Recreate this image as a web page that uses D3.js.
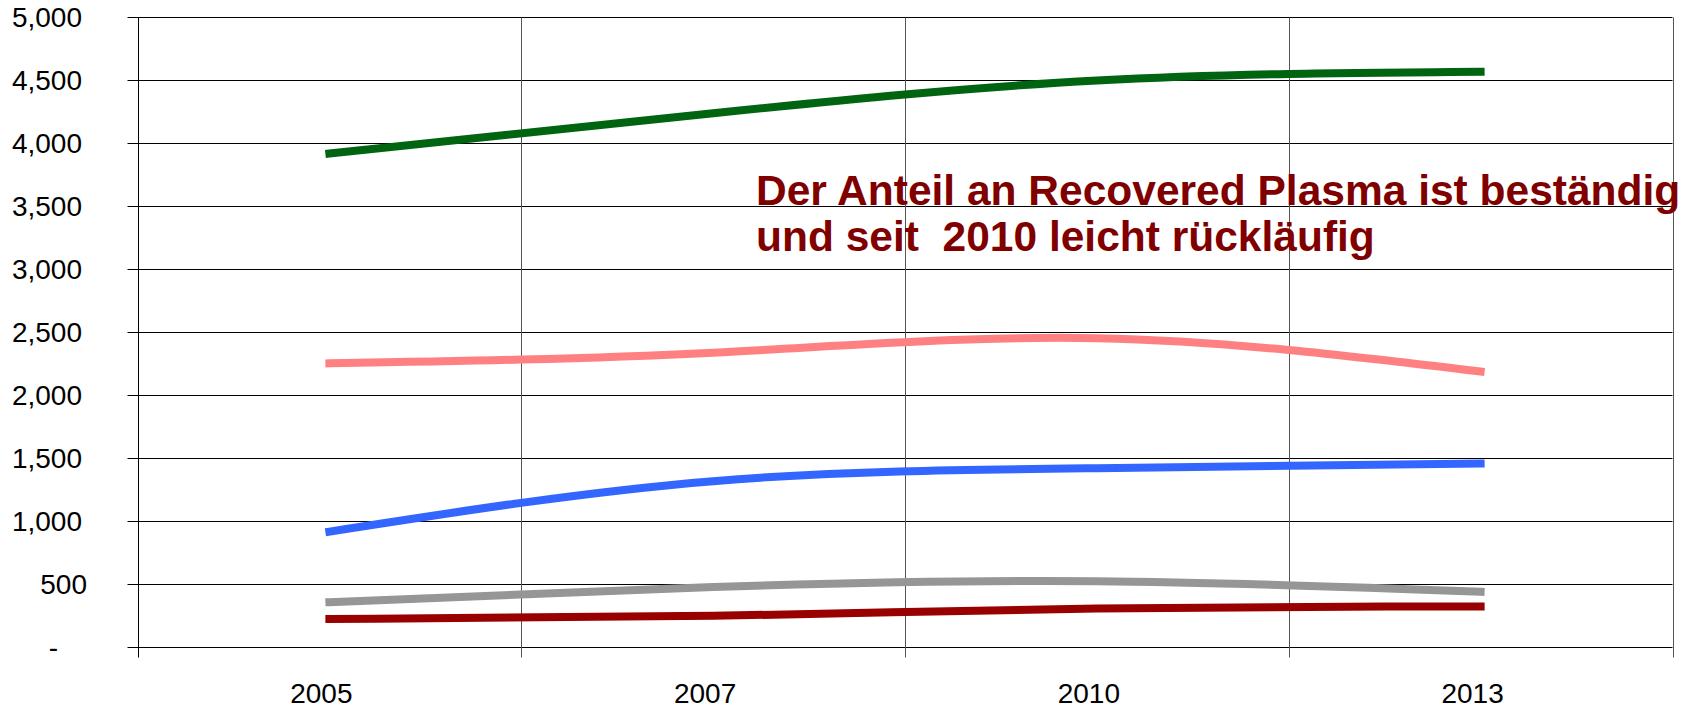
<!DOCTYPE html>
<html>
<head>
<meta charset="utf-8">
<script src="https://cdn.jsdelivr.net/npm/d3@7"></script>
<style>
  body { margin: 0; background: #fff; }
  svg { display: block; font-family: "Liberation Sans", Arial, sans-serif; }
</style>
</head>
<body>
<svg id="chart"></svg>
<script>
// values
const years = ["2005", "2007", "2010", "2013"];
const total = [3920, 4240, 4500, 4570];
const sourcePlasma = [2255, 2340, 2455, 2190];
const fractionated = [920, 1320, 1423, 1460];
const other = [360, 480, 526, 442];
const recovered = [227, 251, 310, 325];
const yTicks = [0, 500, 1000, 1500, 2000, 2500, 3000, 3500, 4000, 4500, 5000];
const note = ["Der Anteil an Recovered Plasma ist beständig", "und seit  2010 leicht rückläufig"];

const series = [
  { values: total, color: "#006411" },
  { values: sourcePlasma, color: "#ff8080" },
  { values: fractionated, color: "#3366ff" },
  { values: other, color: "#969696" },
  { values: recovered, color: "#990000" }
];

var width = 1694, height = 710;
var margin = { top: 17.5, right: 21.5, bottom: 62.5, left: 137.5 };

var svg = d3.select("#chart").attr("width", width).attr("height", height);

var x = d3.scaleBand().domain(years).range([margin.left, width - margin.right]);
var y = d3.scaleLinear().domain([0, 5000]).range([height - margin.bottom, margin.top]);

var fmt = d3.format(",");

// horizontal grid
svg.append("g")
  .selectAll("line")
  .data(yTicks)
  .enter()
  .append("line")
  .attr("x1", margin.left - 10)
  .attr("x2", width - margin.right)
  .attr("y1", d => y(d))
  .attr("y2", d => y(d))
  .attr("stroke", "#000")
  .attr("stroke-width", 1);

// vertical grid at category boundaries (incl. both borders)
var bounds = years.map(d => x(d)).concat([x.range()[1]]);
svg.append("g")
  .selectAll("line")
  .data(bounds)
  .enter()
  .append("line")
  .attr("x1", d => Math.round(d) + 0.5)
  .attr("x2", d => Math.round(d) + 0.5)
  .attr("y1", margin.top)
  .attr("y2", height - margin.bottom + 10)
  .attr("stroke", (d, i) => i == 0 ? "#000" : "#555")
  .attr("stroke-width", 1);

// y labels
svg.append("g")
  .selectAll("text")
  .data(yTicks)
  .enter()
  .append("text")
  .attr("x", d => d == 0 ? 58 : (d < 1000 ? 87 : 82))
  .attr("y", d => y(d))
  .attr("dy", "0.35em")
  .attr("text-anchor", "end")
  .attr("font-size", 28)
  .attr("fill", "#000")
  .text(d => d == 0 ? "-" : fmt(d));

// x labels
svg.append("g")
  .selectAll("text")
  .data(years)
  .enter()
  .append("text")
  .attr("x", d => x(d) + x.bandwidth() / 2 - 8)
  .attr("y", 703)
  .attr("text-anchor", "middle")
  .attr("font-size", 28)
  .attr("fill", "#000")
  .text(d => d);

// lines
var line = d3.line()
  .x((d, i) => x(years[i]) + x.bandwidth() / 2)
  .y(d => y(d))
  .curve(d3.curveNatural);

svg.append("g")
  .selectAll("path")
  .data(series)
  .enter()
  .append("path")
  .attr("d", d => line(d.values))
  .attr("fill", "none")
  .attr("stroke", d => d.color)
  .attr("stroke-width", 8)
  .attr("stroke-linecap", "square");

// annotation
svg.append("text")
  .attr("x", 756)
  .attr("y", 205)
  .attr("font-size", 42.5)
  .attr("font-weight", "bold")
  .attr("fill", "#800000")
  .style("white-space", "pre")
  .selectAll("tspan")
  .data(note)
  .enter()
  .append("tspan")
  .attr("x", 756)
  .attr("dy", (d, i) => i == 0 ? 0 : 45.5)
  .text(d => d);
</script>
</body>
</html>
